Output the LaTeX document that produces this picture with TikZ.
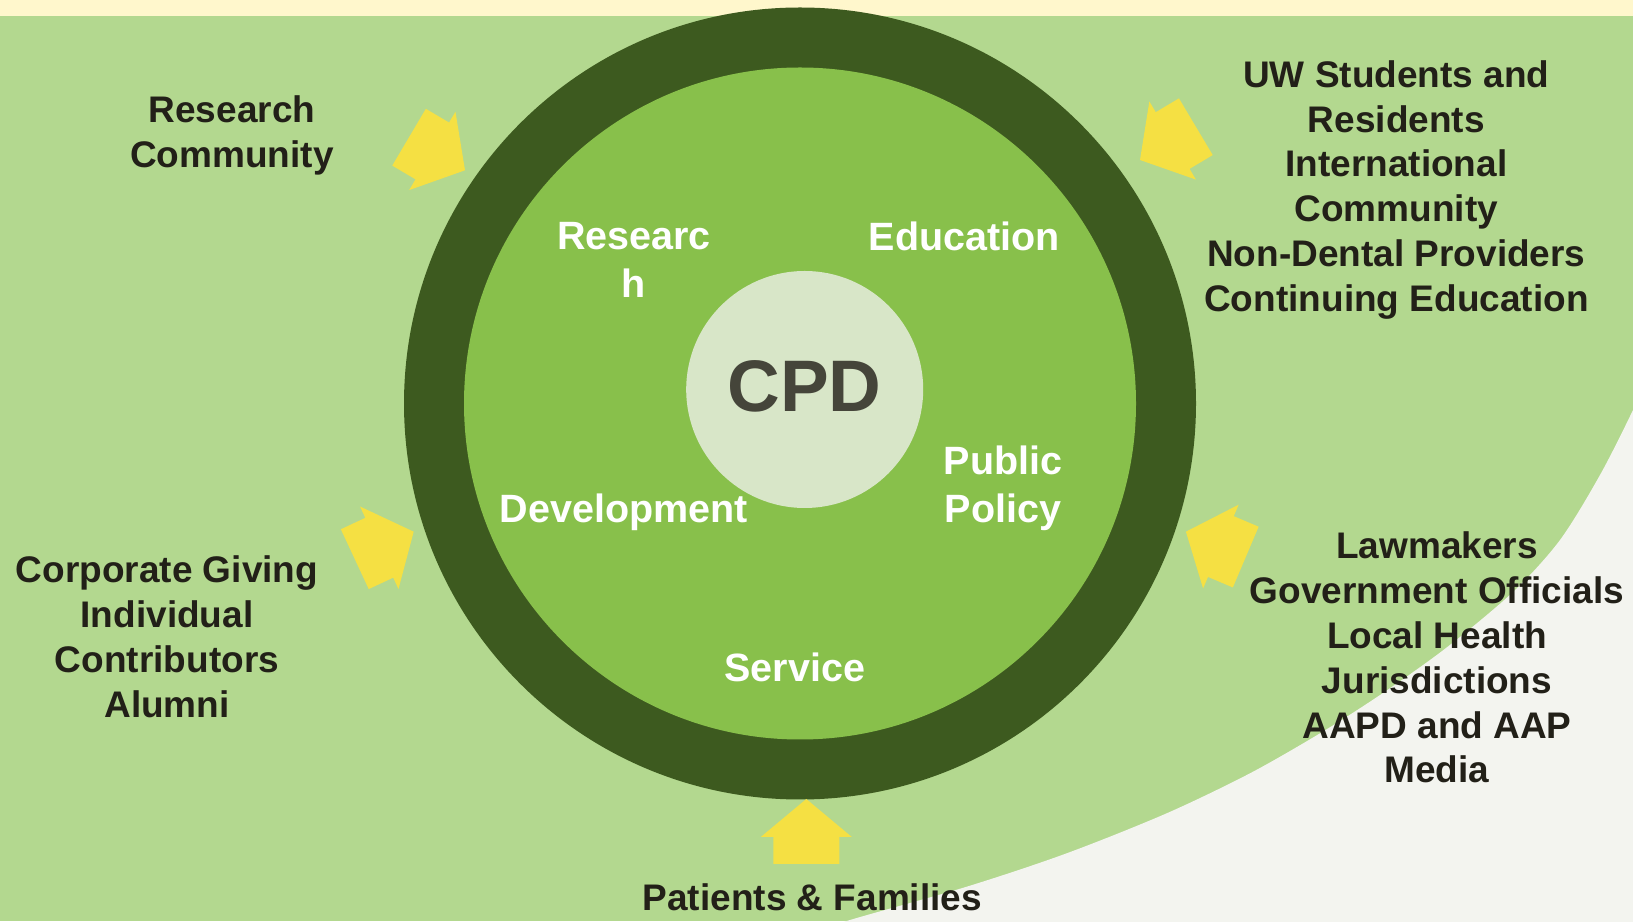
\documentclass[tikz,border=0pt]{standalone}
\usepackage{fontspec}
\setmainfont{Liberation Sans}
\definecolor{creamband}{HTML}{FFF7CC}
\definecolor{lightgreen}{HTML}{B3D88F}
\definecolor{offwhite}{HTML}{F3F4EF}
\definecolor{ringdark}{HTML}{3D5A1F}
\definecolor{midgreen}{HTML}{88C04B}
\definecolor{corefill}{HTML}{D8E6C8}
\definecolor{arrowyellow}{HTML}{F5E043}
\definecolor{labeltext}{HTML}{222018}
\definecolor{cpdtext}{HTML}{45453A}
\tikzset{
  outerlabel/.style={font=\bfseries\fontsize{37}{44.8}\selectfont, text=labeltext, align=center, inner sep=0pt},
  innerlabel/.style={font=\bfseries\fontsize{39.5}{48}\selectfont, text=white, align=center, inner sep=0pt},
  disc/.style={circle, inner sep=0pt, draw=none},
  pics/yarrow/.style={code={
    \fill[arrowyellow] (0,0) -- (-38,45.5) -- (-38,33) -- (-65,33) -- (-65,-33) -- (-38,-33) -- (-38,-45.5) -- cycle;
  }}
}
\begin{document}
\begin{tikzpicture}[x=1pt,y=1pt]
\useasboundingbox (0,0) rectangle (1633,921);
\clip (0,0) rectangle (1633,921);
% background
\fill[lightgreen] (0,0) rectangle (1633,921);
\fill[offwhite] plot[smooth] coordinates {(780,-22) (850,1) (966.7,34.3) (1066.7,67.7) (1166.7,107.7) (1250,147.7) (1320,187.7) (1380,226) (1446,273) (1513,329) (1560,381) (1600,446) (1633,511) (1660,571)} -- (1750,571) -- (1750,-60) -- (780,-60) -- cycle;
\fill[creamband] (0,905) rectangle (1633,921);
% circles
\node[disc, fill=ringdark, minimum size=792pt] (ring) at (800,517.5) {};
\node[disc, fill=midgreen, minimum size=672pt] (inner) at (800,517.5) {};
\node[disc, fill=corefill, minimum size=237pt] (core) at (804.7,531.5) {};
\node[font=\bfseries\fontsize{73}{80}\selectfont, text=cpdtext, inner sep=0pt, anchor=base] (cpd) at (804.5,509.3) {CPD};
% inner labels
\node[innerlabel, anchor=north] (research) at (634,698.8) {Researc\\h};
\node[innerlabel, anchor=base] (education) at (964.4,670.5) {Education};
\node[innerlabel, anchor=north] (policy) at (1003,474.9) {Public\\Policy};
\node[innerlabel, anchor=base] (development) at (624,398.7) {Development};
\node[innerlabel, anchor=base] (service) at (794.7,239.3) {Service};
% arrows
\pic[rotate=-30.6] at (465,750.7) {yarrow};
\pic[rotate=-149.2] at (1140,761) {yarrow};
\pic[rotate=25] at (413.7,389.3) {yarrow};
\pic[rotate=157] at (1185.9,389.3) {yarrow};
\pic[rotate=90] at (806.3,122) {yarrow};
% outer labels
\node[outerlabel, anchor=north] (rescomm) at (232,825.5) {Research\\Community};
\node[outerlabel, anchor=north] (students) at (1396.4,860.8) {UW Students and\\Residents\\International\\Community\\Non-Dental Providers\\Continuing Education};
\node[outerlabel, anchor=north] (giving) at (167,365.2) {Corporate Giving\\Individual\\Contributors\\Alumni};
\node[outerlabel, anchor=north] (lawmakers) at (1437,389.2) {Lawmakers\\Government Officials\\Local Health\\Jurisdictions\\AAPD and AAP\\Media};
\node[outerlabel, anchor=base] (patients) at (812.3,10.3) {Patients \& Families};
\end{tikzpicture}
\end{document}
